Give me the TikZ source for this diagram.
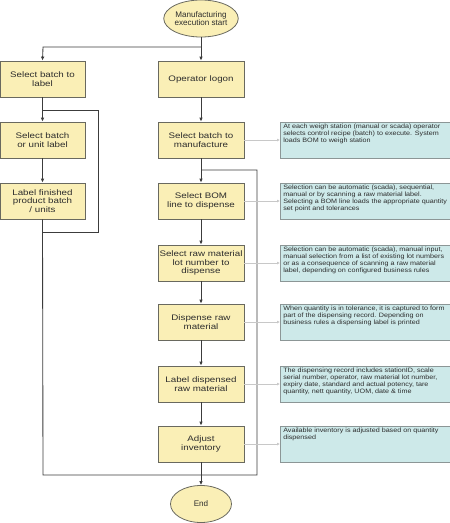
\documentclass[tikz,border=0pt]{standalone}
\usepackage{fontspec}
\setmainfont{Liberation Sans}
\newfontfamily\boxfont[FakeStretch=1.22]{Liberation Sans}
\newfontfamily\notefont[FakeStretch=1.14]{Liberation Sans}
\usetikzlibrary{shapes.geometric,arrows.meta}
\definecolor{boxfill}{RGB}{250,239,182}
\definecolor{boxline}{RGB}{105,105,95}
\definecolor{notefill}{RGB}{205,233,233}
\definecolor{noteline}{RGB}{140,150,150}
\definecolor{txt}{RGB}{45,45,45}
\definecolor{flow}{RGB}{60,60,60}
\definecolor{hint}{RGB}{200,200,200}
\tikzset{
  proc/.style={draw=boxline, fill=boxfill, line width=0.8pt, minimum width=86pt, minimum height=36pt,
    inner sep=1pt, align=center, text=txt, font=\boxfont\fontsize{8}{8.8}\selectfont},
  term/.style={ellipse, draw=boxline, fill=boxfill, line width=0.8pt, minimum width=61pt, minimum height=37pt,
    inner sep=0pt, align=center, text=txt, font=\fontsize{8.1}{8.7}\selectfont},
  note/.style={draw=noteline, fill=notefill, line width=0.6pt, anchor=west, inner sep=2pt, text=txt,
    minimum width=172pt, font=\notefont\fontsize{6.3}{5.7}\selectfont},
  flowline/.style={draw=flow, line width=0.85pt},
  flowarrow/.style={flowline, -{Latex[length=4pt,width=3.6pt]}},
  hintarrow/.style={draw=hint, line width=0.6pt, -{Latex[length=3pt,width=3pt]}}
}
\newcommand{\notetext}[1]{\parbox[c][32pt][t]{166pt}{\raggedright\hbadness=10000 #1}}
\begin{document}
\begin{tikzpicture}[x=1pt,y=1pt]
\useasboundingbox (0,0) rectangle (450,-523);
\clip (0,0) rectangle (450,-523);
\fill[white] (0,0) rectangle (450,-523);

\node[term] (start) at (201,-18.5) {Manufacturing\\execution start};
\node[term] (end) at (201,-504) {End};

\node[proc, minimum width=85pt] (b1) at (42.5,-79) {Select batch to\\label};
\node[proc, minimum width=85pt] (b2) at (42.5,-140) {Select batch\\or unit label};
\node[proc, minimum width=85pt] (b3) at (42.5,-201) {Label finished\\product batch\\/ units};

\node[proc] (r1) at (201,-79) {Operator logon};
\node[proc] (r2) at (201,-140) {Select batch to\\manufacture};
\node[proc] (r3) at (201,-201) {Select BOM\\line to dispense};
\node[proc] (r4) at (201,-263) {Select raw material\\lot number to\\dispense};
\node[proc] (r5) at (201,-322) {Dispense raw\\material};
\node[proc] (r6) at (201,-384) {Label dispensed\\raw material};
\node[proc] (r7) at (201,-444) {Adjust\\inventory};

\node[note] (n2) at (280,-140) {\notetext{\mbox{At each weigh station (manual or scada) operator}\\\mbox{selects control recipe (batch) to execute. System}\\loads BOM to weigh station}};
\node[note] (n3) at (280,-201) {\notetext{\mbox{Selection can be automatic (scada), sequential,}\\manual or by scanning a raw material label.\\\mbox{Selecting a BOM line loads the appropriate quantity}\\set point and tolerances}};
\node[note] (n4) at (280,-263) {\notetext{\mbox{Selection can be automatic (scada), manual input,}\\\mbox{manual selection from a list of existing lot numbers}\\\mbox{or as a consequence of scanning a raw material}\\label, depending on configured business rules}};
\node[note] (n5) at (280,-322) {\notetext{\mbox{When quantity is in tolerance, it is captured to form}\\part of the dispensing record. Depending on\\business rules a dispensing label is printed}};
\node[note] (n6) at (280,-384) {\notetext{\mbox{The dispensing record includes stationID, scale}\\\mbox{serial number, operator, raw material lot number,}\\\mbox{expiry date, standard and actual potency, tare}\\\mbox{quantity, nett quantity, UOM, date \& time}}};
\node[note] (n7) at (280,-444) {\notetext{\mbox{Available inventory is adjusted based on quantity}\\dispensed}};

\coordinate (split) at (201,-47);
\coordinate (splitL) at (43,-47);
\coordinate (lp1) at (43,-110);
\coordinate (lp2) at (98,-110);
\coordinate (lp3) at (98,-232);
\coordinate (lp4) at (43,-232);
\coordinate (bl) at (43,-475);
\coordinate (br) at (257,-475);
\coordinate (rt) at (257,-170);
\coordinate (rl) at (201,-170);

% main flow
\draw[flowline] (start.south) -- (split);
\draw[flowarrow] (split) -- (r1.north);
\draw[flowarrow] (split) -- (splitL) -- (b1.north);
\draw[flowarrow] (b1.south) -- (b2.north);
\draw[flowarrow] (b2.south) -- (b3.north);
\draw[flowarrow] (r1.south) -- (r2.north);
\draw[flowarrow] (r2.south) -- (r3.north);
\draw[flowarrow] (r3.south) -- (r4.north);
\draw[flowarrow] (r4.south) -- (r5.north);
\draw[flowarrow] (r5.south) -- (r6.north);
\draw[flowarrow] (r6.south) -- (r7.north);
\draw[flowarrow] (r7.south) -- (end.north);
% loops
\draw[flowline] (lp1) -- (lp2) -- (lp3) -- (lp4);
\draw[flowline] (b3.south) -- (bl) -- (br) -- (rt) -- (rl);

% hints
\foreach \a/\b in {r2/n2,r3/n3,r4/n4,r5/n5,r6/n6,r7/n7}
  \draw[hintarrow] (\a.east) -- (\b.west);
\end{tikzpicture}
\end{document}
